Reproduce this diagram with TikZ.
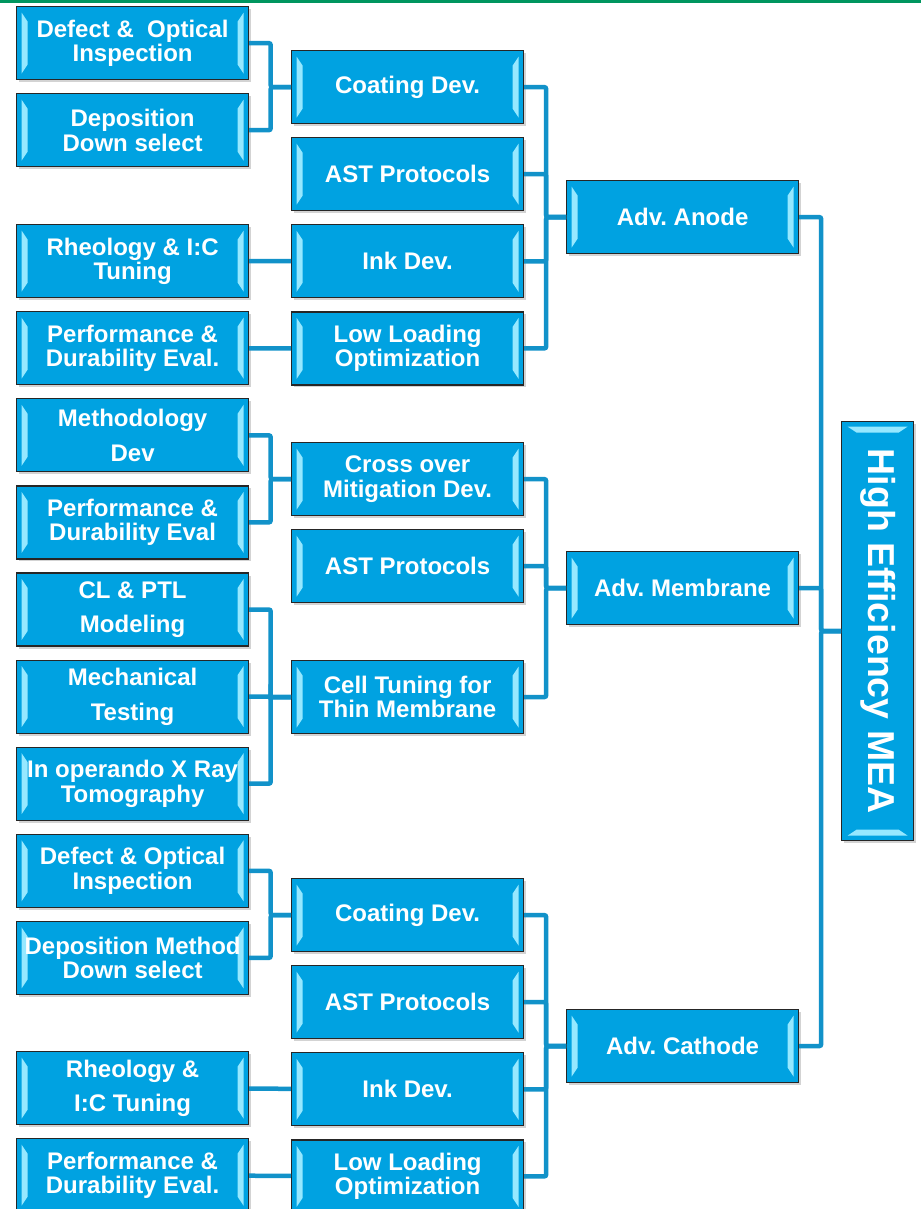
\documentclass[tikz,border=0pt]{standalone}
\usepackage{fontspec}
\setmainfont{Liberation Sans}
\usepackage{xcolor}
\usepackage{graphicx}
\usepackage{tikz}
\usetikzlibrary{shapes,arrows,positioning,shadows}
\definecolor{boxblue}{RGB}{0,162,225}
\definecolor{linkblue}{RGB}{18,146,201}
\definecolor{topgreen}{RGB}{0,150,95}
\definecolor{bevellight}{RGB}{150,232,255}
\frenchspacing
\newcommand{\boxfont}{\fontsize{24}{24.5}\selectfont\bfseries}
\newcommand{\meafont}{\fontsize{37.5}{40}\selectfont\bfseries}
\tikzstyle{bevelsides} = [path picture={
    \fill[bevellight] ([shift={(5pt,-6pt)}]path picture bounding box.north west) -- ([shift={(11pt,-15pt)}]path picture bounding box.north west)
        -- ([shift={(11pt,15pt)}]path picture bounding box.south west) -- ([shift={(5pt,6pt)}]path picture bounding box.south west) -- cycle;
    \fill[bevellight] ([shift={(-5pt,-6pt)}]path picture bounding box.north east) -- ([shift={(-11pt,-15pt)}]path picture bounding box.north east)
        -- ([shift={(-11pt,15pt)}]path picture bounding box.south east) -- ([shift={(-5pt,6pt)}]path picture bounding box.south east) -- cycle;
    }]
\tikzstyle{bevelends} = [path picture={
    \fill[bevellight] ([shift={(6pt,-5pt)}]path picture bounding box.north west) -- ([shift={(15pt,-11pt)}]path picture bounding box.north west)
        -- ([shift={(-15pt,-11pt)}]path picture bounding box.north east) -- ([shift={(-6pt,-5pt)}]path picture bounding box.north east) -- cycle;
    \fill[bevellight] ([shift={(6pt,5pt)}]path picture bounding box.south west) -- ([shift={(15pt,11pt)}]path picture bounding box.south west)
        -- ([shift={(-15pt,11pt)}]path picture bounding box.south east) -- ([shift={(-6pt,5pt)}]path picture bounding box.south east) -- cycle;
    }]
\tikzstyle{block} = [rectangle, draw=black!85, line width=1.2pt, fill=boxblue, text=white, font=\boxfont,
    align=center, minimum width=232pt, minimum height=73pt, inner sep=0pt, anchor=north west,
    drop shadow={opacity=0.35, shadow xshift=2pt, shadow yshift=-2.5pt}, bevelsides]
\tikzstyle{mainblock} = [rectangle, draw=black!85, line width=1.2pt, fill=boxblue, text=white, font=\meafont,
    minimum width=72pt, minimum height=419pt, inner sep=0pt, anchor=north west,
    drop shadow={opacity=0.35, shadow xshift=2pt, shadow yshift=-2.5pt}, bevelends]
\tikzstyle{link} = [draw=linkblue, line width=4.5pt, rounded corners=2pt]

\begin{document}
\begin{tikzpicture}[x=1pt, y=-1pt, node distance=12.9pt]
    \useasboundingbox (0,0) rectangle (921,1209);
    \fill[topgreen] (0,0) rectangle (921,3);

    % Nodes: left column
    \node [block] at (16,6) (l1) {Defect \& \ Optical\\Inspection};
    \node [block, below=of l1] (l2) {Deposition\\Down select};
    \node [block] at (16,224) (l3) {Rheology \& I:C\\Tuning};
    \node [block, below=of l3] (l4) {Performance \&\\Durability Eval.};
    \node [block, below=of l4] (l5) {Methodology\\[10pt]Dev};
    \node [block, below=of l5] (l6) {Performance \&\\Durability Eval};
    \node [block, below=of l6] (l7) {CL \& PTL\\[10pt]Modeling};
    \node [block, below=of l7] (l8) {Mechanical\\[10pt]Testing};
    \node [block, below=of l8] (l9) {In operando X Ray\\Tomography};
    \node [block, below=of l9] (l10) {Defect \& Optical\\Inspection};
    \node [block, below=of l10] (l11) {Deposition Method\\Down select};
    \node [block] at (16,1051) (l12) {Rheology \&\\[10pt]I:C Tuning};
    \node [block, below=of l12] (l13) {Performance \&\\Durability Eval.};

    % Nodes: middle column
    \node [block] at (291,50) (m1) {Coating Dev.};
    \node [block, below=of m1] (m2) {AST Protocols};
    \node [block, below=of m2] (m3) {Ink Dev.};
    \node [block, below=of m3] (m4) {Low Loading\\Optimization};
    \node [block] at (291,442) (m5) {Cross over\\Mitigation Dev.};
    \node [block, below=of m5] (m6) {AST Protocols};
    \node [block] at (291,660) (m7) {Cell Tuning for\\Thin Membrane};
    \node [block] at (291,878) (m8) {Coating Dev.};
    \node [block, below=of m8] (m9) {AST Protocols};
    \node [block, below=of m9] (m10) {Ink Dev.};
    \node [block, below=of m10] (m11) {Low Loading\\Optimization};

    % Nodes: right column
    \node [block] at (566,180) (anode) {Adv. Anode};
    \node [block] at (566,551) (membrane) {Adv. Membrane};
    \node [block] at (566,1009) (cathode) {Adv. Cathode};
    \node [mainblock] at (841,421) (mea) {\rotatebox{-90}{High Efficiency MEA}};

    % Edges
    \path [link] (l1.east) -- ++(21.5,0) |- (m1.west);
    \path [link] (l2.east) -- ++(21.5,0) |- (m1.west);
    \path [link] (l3) -- (m3);
    \path [link] (l4) -- (m4);
    \path [link] (l5.east) -- ++(21.5,0) |- (m5.west);
    \path [link] (l6.east) -- ++(21.5,0) |- (m5.west);
    \path [link] (l7.east) -- ++(21.5,0) |- (m7.west);
    \path [link] (l8.east) -- ++(21.5,0) |- (m7.west);
    \path [link] (l9.east) -- ++(21.5,0) |- (m7.west);
    \path [link] (l10.east) -- ++(21.5,0) |- (m8.west);
    \path [link] (l11.east) -- ++(21.5,0) |- (m8.west);
    \path [link] (l12) -- (m10);
    \path [link] (l13) -- (m11);
    \foreach \m in {m1,m2,m3,m4}
        \path [link] (\m.east) -- ++(22,0) |- (anode.west);
    \foreach \m in {m5,m6,m7}
        \path [link] (\m.east) -- ++(22,0) |- (membrane.west);
    \foreach \m in {m8,m9,m10,m11}
        \path [link] (\m.east) -- ++(22,0) |- (cathode.west);
    \foreach \a in {anode,membrane,cathode}
        \path [link] (\a.east) -- ++(22,0) |- (mea.west);
\end{tikzpicture}
\end{document}
